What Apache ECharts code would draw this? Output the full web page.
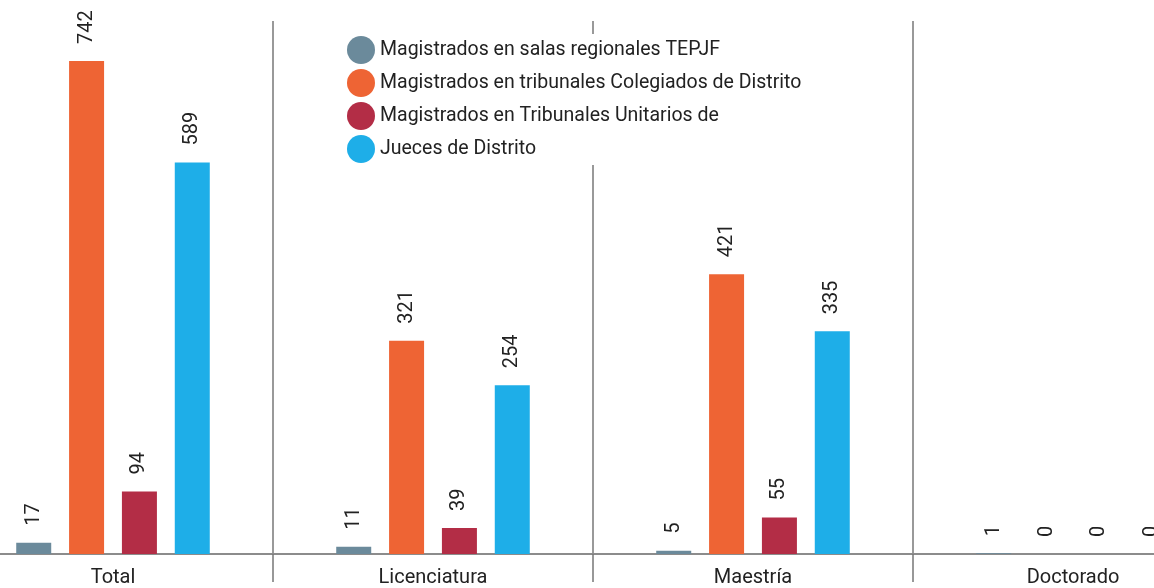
<!DOCTYPE html>
<html>
<head>
<meta charset="utf-8">
<script src="https://cdn.jsdelivr.net/npm/echarts@6/dist/echarts.min.js"></script>
<style>
  html, body { margin: 0; padding: 0; background: #fff; overflow: hidden; width: 1154px; height: 588px; }
  /* el grafico original esta recortado a la izquierda y a la derecha */
  #draw { position: absolute; left: -47px; top: 0; width: 1280px; height: 588px; }
</style>
</head>
<body>
<div id="draw"></div>
<script>
// categorias y valores
var categories = ["Total", "Licenciatura", "Maestría", "Doctorado"];
var seriesNames = [
  "Magistrados en salas regionales TEPJF",
  "Magistrados en tribunales Colegiados de Distrito",
  "Magistrados en Tribunales Unitarios de",
  "Jueces de Distrito"
];
var salasRegionales = [17, 11, 5, 1];
var colegiados = [742, 321, 421, 0];
var unitarios = [94, 39, 55, 0];
var jueces = [589, 254, 335, 0];
var colors = ["#6b8a9b", "#ee6434", "#b32d46", "#1eaee8"];

var chart = echarts.init(document.getElementById("draw"));
var font = "Roboto";

var makeSeries = function (name, data, color) {
  return {
    name: name,
    type: "bar",
    data: data,
    barWidth: 35,
    barGap: "51%",
    itemStyle: { color: color },
    label: {
      show: true,
      position: "top",
      rotate: 90,
      align: "left",
      verticalAlign: "middle",
      distance: 17,
      fontFamily: font,
      fontSize: 20,
      color: "#222",
    },
  };
};

var option = {
  animation: false,
  color: colors,
  textStyle: { fontFamily: font },
  grid: {
    left: 0,
    right: 0,
    top: 21,
    bottom: 31,
  },
  legend: {
    orient: "vertical",
    left: 390,
    top: 34,
    icon: "circle",
    itemWidth: 28,
    itemHeight: 28,
    itemGap: 5,
    padding: [2, 6, 2, 4],
    backgroundColor: "#fff",
    textStyle: { fontSize: 19.5, color: "#222", fontFamily: font },
    data: seriesNames,
  },
  xAxis: {
    type: "category",
    data: categories,
    axisLine: { show: true, lineStyle: { color: "#8c8c8c", width: 2 } },
    axisTick: { show: true, length: 28, lineStyle: { color: "#777", width: 1.5 } },
    axisLabel: { fontSize: 20, color: "#222", margin: 14, fontFamily: font },
    splitLine: { show: true, lineStyle: { color: "#777", width: 1.5 } },
  },
  yAxis: {
    type: "value",
    min: 0,
    max: 802,
    show: false,
    splitLine: { show: false },
  },
  series: [
    makeSeries(seriesNames[0], salasRegionales, colors[0]),
    makeSeries(seriesNames[1], colegiados, colors[1]),
    makeSeries(seriesNames[2], unitarios, colors[2]),
    makeSeries(seriesNames[3], jueces, colors[3]),
  ],
};

chart.setOption(option);
</script>
</body>
</html>
